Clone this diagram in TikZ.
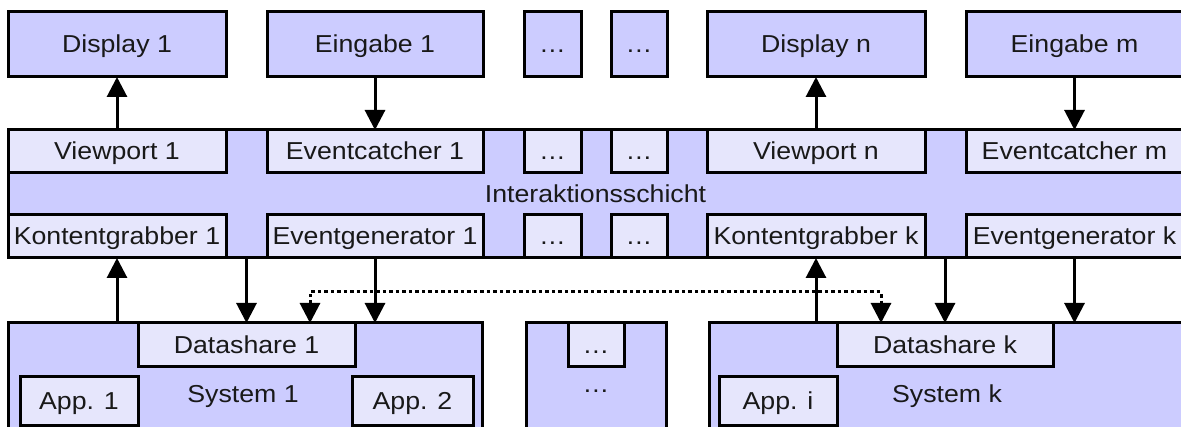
\documentclass[tikz,border=0pt]{standalone}
\usepackage{fontspec}
\setmainfont[FakeStretch=1.09]{Liberation Sans}
\usetikzlibrary{arrows.meta,calc}
\definecolor{outerfill}{RGB}{204,204,255}
\definecolor{innerfill}{RGB}{230,230,252}
\definecolor{txt}{RGB}{25,25,25}
\newcommand\bx[7]{\node[#6, minimum width={(#4-#2)*1pt}, minimum height={(#5-#3)*1pt}] (#1) at ({(#2+#4)/2},{(#3+#5)/2}) {#7};}
\begin{document}
\begin{tikzpicture}[x=1pt,y=-1pt,
  base/.style={draw=black, line width=3pt, inner sep=0pt, outer sep=0pt, text=txt,
    text height=17pt, text depth=0pt,
    font=\fontsize{24.5}{28}\selectfont},
  outerbox/.style={base, fill=outerfill},
  innerbox/.style={base, fill=innerfill},
  arr/.style={line width=3pt, -{Triangle[length=20pt,width=20pt]}},
  dotarr/.style={line width=3pt, dash pattern=on 3.5pt off 3pt,
    {Triangle[length=20pt,width=20pt]}-{Triangle[length=20pt,width=20pt]}},
  lbl/.style={text=txt, inner sep=0pt, text height=17pt, text depth=0pt,
    font=\fontsize{24.5}{28}\selectfont}]
\useasboundingbox (0,0) rectangle (1181,427);
\begin{scope}
\clip (0,0) rectangle (1181,427);
% top row
\bx{disp1}{8}{12}{226}{77}{outerbox}{Display 1}
\bx{ein1}{267}{12}{483}{77}{outerbox}{Eingabe 1}
\bx{dotsA}{524}{12}{581}{77}{outerbox}{\dots}
\bx{dotsB}{611}{12}{667}{77}{outerbox}{\dots}
\bx{dispn}{707}{12}{925}{77}{outerbox}{Display n}
\bx{einm}{966}{12}{1183}{77}{outerbox}{Eingabe m}
% interaction layer
\bx{inter}{8}{130}{1183}{258}{outerbox}{Interaktionsschicht}
\bx{vp1}{8}{130}{226}{173}{innerbox}{Viewport 1}
\bx{ec1}{267}{130}{483}{173}{innerbox}{Eventcatcher 1}
\bx{udA}{524}{130}{581}{173}{innerbox}{\dots}
\bx{udB}{611}{130}{667}{173}{innerbox}{\dots}
\bx{vpn}{707}{130}{925}{173}{innerbox}{Viewport n}
\bx{ecm}{966}{130}{1183}{173}{innerbox}{Eventcatcher m}
\bx{kg1}{8}{215}{226}{258}{innerbox}{Kontentgrabber 1}
\bx{eg1}{267}{215}{483}{258}{innerbox}{Eventgenerator 1}
\bx{ldA}{524}{215}{581}{258}{innerbox}{\dots}
\bx{ldB}{611}{215}{667}{258}{innerbox}{\dots}
\bx{kgk}{707}{215}{925}{258}{innerbox}{Kontentgrabber k}
\bx{egk}{966}{215}{1183}{258}{innerbox}{Eventgenerator k}
% systems
\bx{sys1}{8}{323}{482}{440}{outerbox}{}
\bx{sysm}{526}{323}{666}{440}{outerbox}{}
\bx{sysk}{709}{323}{1183}{440}{outerbox}{}
\bx{ds1}{138}{323}{355}{367}{innerbox}{Datashare 1}
\bx{dsm}{568}{323}{624}{367}{innerbox}{\dots}
\bx{dsk}{837}{323}{1053}{367}{innerbox}{Datashare k}
\bx{app1}{20}{377}{138}{426}{innerbox}{App. 1}
\bx{app2}{352}{377}{473}{426}{innerbox}{App. 2}
\bx{appi}{719}{377}{837}{426}{innerbox}{App. i}
\node[lbl] (sys1t) at (243,394) {System 1};
\node[lbl] (sysmt) at (596,384) {\dots};
\node[lbl] (syskt) at (947,394) {System k};
% arrows top
\draw[arr] (vp1.north) -- (disp1.south);
\draw[arr] (ein1.south) -- (ec1.north);
\draw[arr] (vpn.north) -- (dispn.south);
\draw[arr] (einm.south) -- (ecm.north);
% arrows bottom
\draw[arr] (sys1.north -| kg1.south) -- (kg1.south);
\draw[arr] (inter.south -| ds1.north) -- (ds1.north);
\draw[arr] (eg1.south) -- (sys1.north -| eg1.south);
\draw[arr] (sysk.north -| kgk.south) -- (kgk.south);
\draw[arr] (inter.south -| dsk.north) -- (dsk.north);
\draw[arr] (egk.south) -- (sysk.north -| egk.south);
% dotted datashare link
\coordinate (d1) at ([xshift=172pt]ds1.north west);
\coordinate (dk) at ([xshift=44pt]dsk.north west);
\draw[dotarr] (d1) -- ++(0,-31) -| (dk);
\end{scope}
\end{tikzpicture}
\end{document}
